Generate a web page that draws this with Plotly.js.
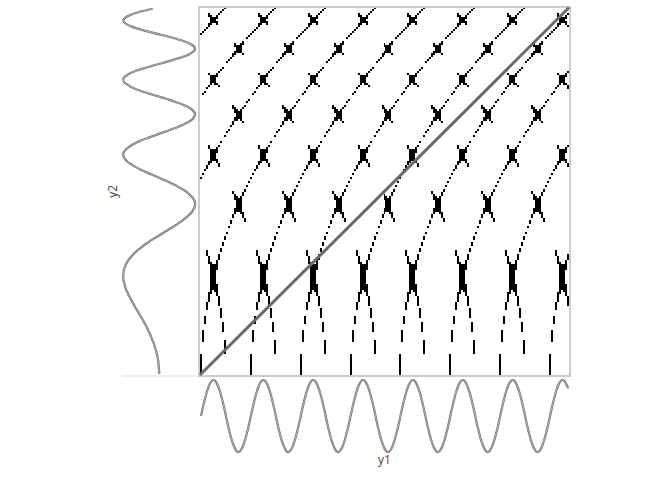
<!DOCTYPE html>
<html><head><meta charset="utf-8">
<script src="https://cdn.plot.ly/plotly-3.0.1.min.js"></script>
<style>html,body{margin:0;padding:0;background:#fff}#chart{width:672px;height:480px}</style>
</head><body><div id="chart"></div>
<script>
var y1 = [
0,.25,.48,.68,.84,.95,1,.98,.9,.77,.59,.37,.13,-.13,-.37,-.59,-.77,-.9,-.98,-1,-.95,-.84,-.68,-.48,-.25,
0,.25,.48,.68,.84,.95,1,.98,.9,.77,.59,.37,.13,-.13,-.37,-.59,-.77,-.9,-.98,-1,-.95,-.84,-.68,-.48,-.25,
0,.25,.48,.68,.84,.95,1,.98,.9,.77,.59,.37,.13,-.13,-.37,-.59,-.77,-.9,-.98,-1,-.95,-.84,-.68,-.48,-.25,
0,.25,.48,.68,.84,.95,1,.98,.9,.77,.59,.37,.13,-.13,-.37,-.59,-.77,-.9,-.98,-1,-.95,-.84,-.68,-.48,-.25,
0,.25,.48,.68,.84,.95,1,.98,.9,.77,.59,.37,.13,-.13,-.37,-.59,-.77,-.9,-.98,-1,-.95,-.84,-.68,-.48,-.25,
0,.25,.48,.68,.84,.95,1,.98,.9,.77,.59,.37,.13,-.13,-.37,-.59,-.77,-.9,-.98,-1,-.95,-.84,-.68,-.48,-.25,
0,.25,.48,.68,.84,.95,1,.98,.9,.77,.59,.37,.13,-.13,-.37,-.59,-.77,-.9,-.98,-1,-.95,-.84,-.68,-.48,-.25,
0,.25,.48,.68,.84,.95,1,.98,.9,.77
];
// signal y2 (left panel), same sample steps
var y2 = [
0,0,0,.01,.01,.02,.02,.03,.04,.05,.06,.08,
.09,.11,.13,.14,.16,.19,.21,.23,.25,.28,.31,.33,
.36,.39,.42,.45,.48,.52,.55,.58,.61,.65,.68,.71,
.74,.77,.8,.83,.86,.88,.91,.93,.95,.96,.98,.99,
1,1,1,.99,.99,.97,.95,.93,.9,.87,.83,.78,
.73,.68,.62,.55,.48,.41,.33,.25,.16,.07,-.02,-.11,
-.2,-.29,-.38,-.47,-.55,-.63,-.7,-.77,-.83,-.89,-.93,-.96,
-.99,-1,-1,-.99,-.96,-.92,-.87,-.81,-.74,-.65,-.55,-.45,
-.34,-.22,-.09,.03,.16,.29,.41,.53,.64,.73,.82,.89,
.94,.98,1,1,.97,.93,.87,.78,.68,.57,.44,.29,
.14,-.01,-.17,-.32,-.47,-.6,-.72,-.83,-.91,-.96,-.99,-1,
-.97,-.92,-.84,-.73,-.6,-.45,-.29,-.11,.07,.25,.42,.58,
.72,.83,.92,.98,1,.99,.93,.85,.73,.58,.41,.22,
.02,-.18,-.37,-.55,-.71,-.84,-.93,-.99,-1,-.96,-.89,-.77,
-.61,-.43,-.22,0,.22,.43,.62,.78,.9,.97,1,.97,
.89,.77,.6,.39,.17
];
var xTitle = 'y1';
var yTitle = 'y2';
var eps = 0.07;   // recurrence threshold on the values
var epsD = 0.28;  // threshold on the local slopes (2-D state match)

function slope(s) {
  return s.map(function (v, i) {
    var lo = Math.max(0, i - 1), hi = Math.min(s.length - 1, i + 1);
    return (s[hi] - s[lo]) / (hi - lo);
  });
}
var d1 = slope(y1), d2 = slope(y2);

// cross-recurrence table built from the two signals
var z = y2.map(function (b, j) {
  return y1.map(function (a, i) {
    return (Math.abs(a - b) < eps && Math.abs(d1[i] - d2[j]) < epsD) ? 1 : null;
  });
});

var rng = [-0.5, y1.length - 0.5];
var rngY = [-0.5, y2.length - 0.5];
var under = {color: '#707070', width: 2.2, shape: 'spline'};
var over = {color: '#cfcfcf', width: 0.7, shape: 'spline'};

var data = [
  {type: 'heatmap', z: z, xaxis: 'x', yaxis: 'y', colorscale: [[0, '#000'], [1, '#000']],
   showscale: false, zsmooth: false, hoverinfo: 'skip'},
  {type: 'scatter', mode: 'lines', y: y1, xaxis: 'x2', yaxis: 'y2', line: under, hoverinfo: 'skip'},
  {type: 'scatter', mode: 'lines', y: y1, xaxis: 'x2', yaxis: 'y2', line: over, hoverinfo: 'skip'},
  {type: 'scatter', mode: 'lines', x: y2, xaxis: 'x3', yaxis: 'y3', line: under, hoverinfo: 'skip'},
  {type: 'scatter', mode: 'lines', x: y2, xaxis: 'x3', yaxis: 'y3', line: over, hoverinfo: 'skip'}
];

var hidden = {showgrid: false, zeroline: false, showticklabels: false, ticks: '', showline: false};
function ax(extra) { return Object.assign({}, hidden, extra); }

var layout = {
  width: 672, height: 480,
  margin: {l: 0, r: 0, t: 0, b: 0},
  paper_bgcolor: '#fff', plot_bgcolor: 'rgba(0,0,0,0)',
  showlegend: false,
  font: {family: '"Open Sans", sans-serif', size: 12, color: '#444'},
  xaxis: ax({domain: [200 / 672, 569 / 672], range: rng, anchor: 'y',
             showline: true, mirror: true, linecolor: '#cccccc', linewidth: 2}),
  yaxis: ax({domain: [105 / 480, 472.5 / 480], range: rngY, anchor: 'x',
             showline: true, mirror: true, linecolor: '#cccccc', linewidth: 2}),
  xaxis2: ax({domain: [200 / 672, 569 / 672], matches: 'x', anchor: 'y2',
              title: {text: xTitle, standoff: 1, font: {size: 12, color: '#444'}}}),
  yaxis2: ax({domain: [26.2 / 480, 101.8 / 480], range: [-1.05, 1.05], anchor: 'x2'}),
  xaxis3: ax({domain: [121.5 / 672, 196.8 / 672], range: [1.05, -1.05], anchor: 'y3',
              showline: true, linecolor: '#eeeeee', linewidth: 2}),
  yaxis3: ax({domain: [105 / 480, 472.5 / 480], matches: 'y', anchor: 'x3',
              title: {text: yTitle, standoff: 0, font: {size: 12, color: '#444'}}}),
  shapes: [{type: 'line', xref: 'x domain', yref: 'y domain', x0: 0, y0: 0, x1: 1, y1: 1,
            line: {color: '#6a6a6a', width: 3}, layer: 'above'}]
};

Plotly.newPlot('chart', data, layout, {staticPlot: true, displayModeBar: false});
</script></body></html>
